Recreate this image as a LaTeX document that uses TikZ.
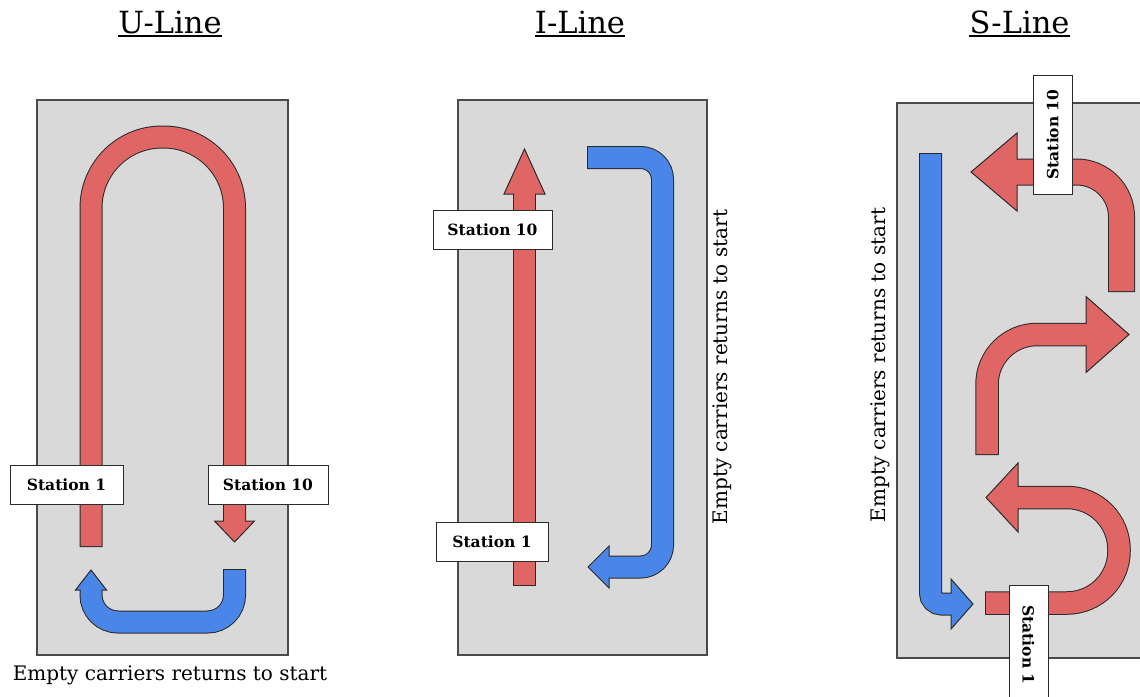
\documentclass[tikz,border=0pt]{standalone}
\usepackage{fontspec}
\setmainfont{DejaVu Serif}
\definecolor{panelgray}{HTML}{D9D9D9}
\definecolor{boxedge}{HTML}{4A4A4A}
\definecolor{edge}{HTML}{2A2A2A}
\definecolor{flowred}{HTML}{E06666}
\definecolor{flowblue}{HTML}{4A86E8}

% shaft of a flow arrow: #1 colour, #2 width, #3 path (may start with options)
\newcommand{\band}[3]{%
  \draw[draw=edge, line width=#2+2pt, shorten <=-1pt, shorten >=-1pt] #3;
  \draw[draw=#1, line width=#2] #3;}
% head of a flow arrow: open outline from one shaft edge round to the other
\newcommand{\head}[2]{%
  \filldraw[fill=#1, draw=edge, line width=1pt, line join=miter] #2;}
% heading with a heavy underline
\newcommand{\heading}[3]{%
  \node[title] (#1) at #2 {#3};
  \draw[line width=2pt] ([yshift=-2.5pt]#1.south west) -- ([yshift=-2.5pt]#1.south east);}

\begin{document}
\begin{tikzpicture}[x=1pt, y=-1pt,
  panel/.style={fill=panelgray, draw=boxedge, line width=1.3pt},
  stationbox/.style={draw=edge, fill=white, line width=1pt, inner sep=0pt,
    minimum height=39pt, font=\bfseries\fontsize{15.5}{18}\selectfont},
  title/.style={font=\fontsize{30.5}{34}\selectfont, inner sep=0pt},
  note/.style={font=\fontsize{20}{22}\selectfont, inner sep=0pt}]
\useasboundingbox (0,0) rectangle (1140,696);
\clip (0,0) rectangle (1140,696);

% ---------- U-Line ----------
\heading{utitle}{(170,22)}{U-Line}
\draw[panel] (37,100) rectangle (288,655);
\band{flowred}{21pt}{[rounded corners=71pt] (91,546) -- (91,137) -- (234.5,137) -- (234.5,521)}
\head{flowred}{(224,521) -- (214.5,521) -- (234.5,542) -- (254.5,521) -- (245,521)}
\band{flowblue}{21pt}{[rounded corners=27pt] (234.5,570) -- (234.5,622) -- (91,622) -- (91,590)}
\head{flowblue}{(80.5,590) -- (75.5,590) -- (91,570) -- (106.5,590) -- (101.5,590)}
\node[stationbox, minimum width=113pt] (u1) at (66.5,484.5) {Station 1};
\node[stationbox, minimum width=120pt] (u10) at (268,484.5) {Station 10};
\node[note] (unote) at (170,675) {Empty carriers returns to start};

% ---------- I-Line ----------
\heading{ititle}{(580,22)}{I-Line}
\draw[panel] (458,100) rectangle (707,655);
\band{flowred}{21pt}{(524.5,585) -- (524.5,194)}
\head{flowred}{(514,194) -- (504,194) -- (524.5,149) -- (545,194) -- (535,194)}
\band{flowblue}{21pt}{[rounded corners=22pt] (588,157.5) -- (662.5,157.5) -- (662.5,567) -- (609,567)}
\head{flowblue}{(609,556.5) -- (609,546) -- (588,567) -- (609,588) -- (609,577.5)}
\node[stationbox, minimum width=119pt] (i10) at (492.5,229.5) {Station 10};
\node[stationbox, minimum width=112pt] (i1) at (492,541.5) {Station 1};
\node[note, rotate=90] (inote) at (722,367) {Empty carriers returns to start};

% ---------- S-Line ----------
\heading{stitle}{(1019.5,22)}{S-Line}
\draw[panel] (897,103) rectangle (1160,658);
\band{flowblue}{21pt}{[rounded corners=11pt] (930.5,154) -- (930.5,604) -- (951,604)}
\head{flowblue}{(951,593.5) -- (951,579) -- (973,604) -- (951,629) -- (951,614.5)}
\band{flowred}{21.5pt}{[rounded corners=52pt] (986,603) -- (1119,603) -- (1119,497.5) -- (1018,497.5)}
\head{flowred}{(1018,508.25) -- (1018,532) -- (986,497.5) -- (1018,463) -- (1018,486.75)}
\band{flowred}{21.5pt}{[rounded corners=50pt] (987,454) -- (987,334.5) -- (1086,334.5)}
\head{flowred}{(1086,323.75) -- (1086,296.5) -- (1129,334.5) -- (1086,372.5) -- (1086,345.25)}
\band{flowred}{25pt}{[rounded corners=45pt] (1121.5,291) -- (1121.5,172) -- (1017,172)}
\head{flowred}{(1017,159.5) -- (1017,133) -- (971,172) -- (1017,211) -- (1017,184.5)}
\node[stationbox, minimum width=119pt, rotate=90] (s10) at (1052.5,134.5) {Station 10};
\node[stationbox, minimum width=120pt, rotate=-90] (s1) at (1028.5,645) {Station 1};
\node[note, rotate=90] (snote) at (880,365) {Empty carriers returns to start};
\end{tikzpicture}
\end{document}
